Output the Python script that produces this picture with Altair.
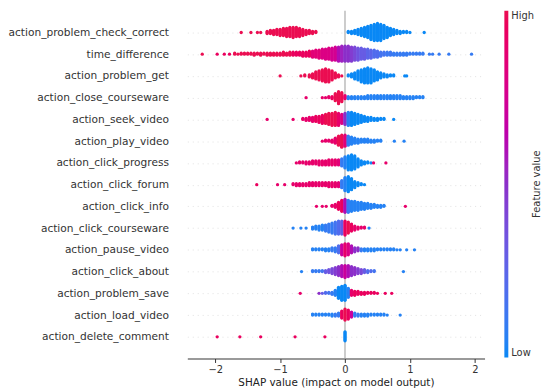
import altair as alt
import pandas as pd

features = [
    "action_problem_check_correct", "time_difference", "action_problem_get",
    "action_close_courseware", "action_seek_video", "action_play_video",
    "action_click_progress", "action_click_forum", "action_click_info",
    "action_click_courseware", "action_pause_video", "action_click_about",
    "action_problem_save", "action_load_video", "action_delete_comment",
]

# (shap value, number of points, feature value 0=low..1=high)
problem_check_correct = [
    (-1.6, 1, 1.0), (-1.45, 1, 1.0), (-1.35, 1, 1.0), (-1.3, 1, 1.0),
    (-1.2, 3, 1.0), (-1.15, 4, 1.0), (-1.1, 5, 1.0), (-1.05, 6, 1.0), (-1.0, 7, 1.0),
    (-0.95, 8, 1.0), (-0.9, 9, 1.0), (-0.85, 10, 1.0), (-0.8, 11, 1.0), (-0.75, 10, 1.0),
    (-0.7, 9, 1.0), (-0.65, 7, 1.0), (-0.6, 5, 1.0), (-0.55, 4, 1.0), (-0.5, 3, 1.0), (-0.45, 2, 1.0),
    (0.05, 2, 0.0), (0.1, 3, 0.0), (0.15, 4, 0.0), (0.2, 6, 0.0), (0.25, 8, 0.0), (0.3, 10, 0.0),
    (0.35, 12, 0.0), (0.4, 15, 0.0), (0.45, 17, 0.0), (0.5, 18, 0.0), (0.55, 17, 0.0), (0.6, 14, 0.0),
    (0.65, 11, 0.0), (0.7, 8, 0.0), (0.75, 6, 0.0), (0.8, 4, 0.0), (0.85, 3, 0.0), (0.9, 2, 0.0),
    (0.95, 2, 0.0), (1.0, 1, 0.0), (1.22, 1, 0.0),
]
time_difference = [
    (-2.2, 1, 1.0), (-1.97, 1, 0.95), (-1.86, 1, 0.95), (-1.78, 1, 0.95),
    (-1.7, 2, 1.0), (-1.65, 1, 1.0), (-1.6, 2, 1.0), (-1.55, 2, 1.0), (-1.5, 2, 1.0), (-1.45, 2, 1.0),
    (-1.4, 3, 1.0), (-1.35, 2, 1.0), (-1.3, 3, 1.0), (-1.25, 2, 1.0), (-1.2, 3, 1.0), (-1.15, 3, 1.0),
    (-1.1, 3, 1.0), (-1.05, 3, 1.0), (-1.0, 3, 1.0), (-0.95, 4, 1.0), (-0.9, 3, 1.0), (-0.85, 4, 1.0),
    (-0.8, 4, 0.95), (-0.75, 4, 0.95), (-0.7, 4, 0.95), (-0.65, 5, 0.95), (-0.6, 5, 0.95), (-0.55, 6, 0.95),
    (-0.5, 7, 0.85), (-0.45, 8, 0.85), (-0.4, 9, 0.85), (-0.35, 10, 0.8), (-0.3, 11, 0.8), (-0.25, 12, 0.8),
    (-0.2, 13, 0.75), (-0.15, 14, 0.75), (-0.1, 15, 0.6), (-0.05, 16, 0.55), (0.0, 16, 0.5), (0.05, 16, 0.5),
    (0.1, 15, 0.45), (0.15, 14, 0.4), (0.2, 13, 0.35), (0.25, 12, 0.3), (0.3, 11, 0.3), (0.35, 10, 0.25),
    (0.4, 9, 0.25), (0.45, 8, 0.2), (0.5, 7, 0.2), (0.55, 5, 0.15), (0.6, 4, 0.15), (0.65, 4, 0.12),
    (0.7, 4, 0.12), (0.75, 3, 0.1), (0.8, 3, 0.1), (0.85, 3, 0.1), (0.9, 3, 0.1), (0.95, 3, 0.1),
    (1.0, 2, 0.1), (1.05, 2, 0.1), (1.1, 2, 0.1), (1.15, 2, 0.1), (1.2, 2, 0.1), (1.3, 1, 0.1),
    (1.35, 1, 0.1), (1.45, 1, 0.1), (1.6, 1, 0.1), (1.95, 1, 0.1),
]
problem_get = [
    (-1.0, 1, 1.0), (-0.68, 1, 1.0), (-0.62, 2, 1.0), (-0.55, 3, 1.0), (-0.5, 5, 1.0), (-0.45, 8, 1.0),
    (-0.4, 10, 1.0), (-0.35, 12, 1.0), (-0.3, 14, 1.0), (-0.25, 13, 1.0), (-0.2, 10, 1.0), (-0.15, 6, 1.0),
    (-0.1, 3, 1.0), (-0.05, 1, 1.0),
    (0.05, 2, 0.0), (0.1, 4, 0.0), (0.15, 7, 0.0), (0.2, 10, 0.0), (0.25, 13, 0.0), (0.3, 15, 0.0),
    (0.35, 16, 0.0), (0.4, 15, 0.0), (0.45, 12, 0.0), (0.5, 9, 0.0), (0.55, 6, 0.0), (0.6, 4, 0.0),
    (0.65, 3, 0.0), (0.7, 2, 0.0), (0.75, 2, 0.0), (0.92, 1, 0.0), (0.95, 1, 0.0),
]
close_courseware = [
    (-0.6, 1, 0.9), (-0.35, 1, 0.9), (-0.3, 1, 0.9), (-0.25, 2, 0.9), (-0.2, 3, 0.95), (-0.15, 8, 1.0),
    (-0.1, 13, 1.0), (-0.05, 10, 1.0), (0.0, 4, 0.9),
    (0.05, 3, 0.05), (0.1, 3, 0.05), (0.15, 3, 0.05), (0.2, 3, 0.05), (0.25, 3, 0.05), (0.3, 3, 0.05),
    (0.35, 4, 0.05), (0.4, 4, 0.05), (0.45, 4, 0.05), (0.5, 4, 0.05), (0.55, 4, 0.05), (0.6, 4, 0.05),
    (0.65, 4, 0.05), (0.7, 4, 0.05), (0.75, 4, 0.05), (0.8, 4, 0.05), (0.85, 4, 0.05), (0.9, 3, 0.05),
    (0.95, 3, 0.05), (1.0, 3, 0.05), (1.05, 3, 0.05), (1.1, 2, 0.05), (1.15, 2, 0.05), (1.2, 2, 0.05),
]
seek_video = [
    (-1.2, 1, 0.9), (-0.8, 1, 0.9), (-0.65, 2, 0.9), (-0.6, 3, 0.9), (-0.55, 4, 0.9), (-0.5, 5, 0.9),
    (-0.45, 6, 0.95), (-0.4, 7, 0.95), (-0.35, 9, 0.95), (-0.3, 10, 1.0), (-0.25, 12, 1.0), (-0.2, 13, 1.0),
    (-0.15, 14, 1.0), (-0.1, 13, 0.9), (-0.05, 10, 0.8), (0.0, 12, 0.5),
    (0.05, 14, 0.05), (0.1, 14, 0.0), (0.15, 12, 0.0), (0.2, 10, 0.0), (0.25, 8, 0.0), (0.3, 6, 0.0),
    (0.35, 5, 0.0), (0.4, 4, 0.0), (0.45, 3, 0.0), (0.5, 3, 0.0), (0.55, 2, 0.0), (0.6, 2, 0.0), (0.75, 1, 0.0),
]
play_video = [
    (-0.35, 1, 0.9), (-0.3, 2, 0.9), (-0.25, 2, 0.9), (-0.2, 3, 0.9), (-0.15, 6, 0.9), (-0.1, 10, 1.0),
    (-0.05, 13, 1.0), (0.0, 12, 0.85),
    (0.05, 10, 0.1), (0.1, 8, 0.05), (0.15, 6, 0.05), (0.2, 5, 0.05), (0.25, 4, 0.05), (0.3, 4, 0.05),
    (0.35, 4, 0.05), (0.4, 3, 0.05), (0.45, 3, 0.05), (0.5, 2, 0.05), (0.55, 2, 0.05), (0.76, 1, 0.05), (0.91, 1, 0.05),
]
click_progress = [
    (-0.75, 1, 0.9), (-0.7, 2, 0.9), (-0.65, 2, 0.9), (-0.6, 3, 0.9), (-0.55, 3, 0.9), (-0.5, 4, 0.9),
    (-0.45, 4, 0.9), (-0.4, 5, 0.9), (-0.35, 5, 0.9), (-0.3, 5, 0.9), (-0.25, 6, 0.9), (-0.2, 6, 0.9),
    (-0.15, 6, 0.9), (-0.1, 6, 0.85),
    (-0.05, 8, 0.1), (0.0, 12, 0.05), (0.05, 15, 0.0), (0.1, 16, 0.0), (0.15, 14, 0.0), (0.2, 9, 0.0),
    (0.25, 5, 0.0), (0.3, 3, 0.0), (0.35, 2, 0.0), (0.4, 1, 0.0), (0.44, 1, 0.9), (0.63, 1, 0.9),
]
click_forum = [
    (-1.36, 1, 0.95), (-1.04, 1, 0.9), (-0.93, 1, 0.9), (-0.8, 2, 0.9), (-0.75, 3, 0.9), (-0.7, 3, 0.9),
    (-0.65, 3, 0.9), (-0.6, 3, 0.9), (-0.55, 4, 0.9), (-0.5, 4, 0.9), (-0.45, 4, 0.9), (-0.4, 4, 0.9),
    (-0.35, 4, 0.9), (-0.3, 4, 0.9), (-0.25, 5, 0.9), (-0.2, 5, 0.9), (-0.15, 5, 0.9), (-0.1, 5, 0.85),
    (-0.05, 8, 0.1), (0.0, 14, 0.05), (0.05, 16, 0.0), (0.1, 12, 0.0), (0.15, 7, 0.0), (0.2, 4, 0.0),
    (0.25, 2, 0.0), (0.3, 1, 0.0),
]
click_info = [
    (-0.44, 1, 0.9), (-0.35, 1, 0.9), (-0.29, 1, 0.9), (-0.2, 2, 0.9), (-0.15, 4, 0.9), (-0.1, 8, 0.95),
    (-0.05, 12, 0.95), (0.0, 14, 0.6),
    (0.05, 13, 0.1), (0.1, 11, 0.05), (0.15, 10, 0.05), (0.2, 9, 0.05), (0.25, 8, 0.05), (0.3, 7, 0.05),
    (0.35, 6, 0.05), (0.4, 5, 0.05), (0.45, 4, 0.05), (0.5, 3, 0.05), (0.55, 3, 0.05), (0.6, 2, 0.05),
    (0.93, 1, 0.9),
]
click_courseware = [
    (-0.8, 1, 0.05), (-0.68, 1, 0.05), (-0.6, 1, 0.05), (-0.5, 3, 0.05), (-0.45, 4, 0.05), (-0.4, 5, 0.05),
    (-0.35, 6, 0.05), (-0.3, 7, 0.1), (-0.25, 9, 0.1), (-0.2, 11, 0.1), (-0.15, 13, 0.15), (-0.1, 14, 0.2),
    (-0.05, 14, 0.3),
    (0.0, 15, 0.95), (0.05, 12, 1.0), (0.1, 8, 0.95), (0.15, 5, 0.9), (0.2, 3, 0.9), (0.25, 2, 0.9),
    (0.3, 2, 0.9), (0.37, 1, 0.05),
]
pause_video = [
    (-0.5, 2, 0.05), (-0.45, 2, 0.05), (-0.4, 2, 0.05), (-0.35, 2, 0.05), (-0.3, 3, 0.05), (-0.25, 3, 0.05),
    (-0.2, 4, 0.1), (-0.15, 5, 0.1), (-0.1, 8, 0.2),
    (-0.05, 11, 0.7), (0.0, 13, 0.9), (0.05, 12, 0.8), (0.1, 8, 0.6), (0.15, 5, 0.5), (0.2, 4, 0.5),
    (0.25, 3, 0.1), (0.3, 3, 0.05), (0.35, 3, 0.05), (0.4, 3, 0.05), (0.45, 3, 0.05), (0.5, 2, 0.05),
    (0.55, 2, 0.05), (0.6, 2, 0.05), (0.65, 2, 0.05), (0.7, 2, 0.05), (0.75, 2, 0.05), (0.8, 1, 0.05),
    (0.85, 1, 0.05), (0.95, 1, 0.05), (1.07, 1, 0.05),
]
click_about = [
    (-0.67, 1, 0.05), (-0.5, 2, 0.1), (-0.45, 2, 0.1), (-0.4, 2, 0.1), (-0.35, 2, 0.15), (-0.3, 3, 0.3),
    (-0.25, 4, 0.35), (-0.2, 6, 0.4), (-0.15, 8, 0.45), (-0.1, 10, 0.5), (-0.05, 12, 0.6), (0.0, 13, 0.7),
    (0.05, 12, 0.6), (0.1, 10, 0.5), (0.15, 8, 0.5), (0.2, 6, 0.45), (0.25, 5, 0.4), (0.3, 4, 0.3),
    (0.35, 3, 0.2), (0.4, 2, 0.2), (0.45, 2, 0.15), (0.9, 1, 0.05),
]
problem_save = [
    (-0.69, 1, 0.9), (-0.4, 1, 0.5), (-0.35, 1, 0.3), (-0.3, 2, 0.2), (-0.25, 2, 0.15), (-0.2, 3, 0.1),
    (-0.15, 6, 0.05), (-0.1, 12, 0.0), (-0.05, 15, 0.0), (0.0, 16, 0.0), (0.05, 10, 0.05),
    (0.1, 6, 0.9), (0.15, 5, 0.95), (0.2, 4, 0.95), (0.25, 3, 0.95), (0.3, 3, 0.95), (0.35, 2, 0.95),
    (0.4, 2, 0.95), (0.45, 2, 0.95), (0.5, 1, 0.95), (0.62, 1, 0.95), (0.72, 1, 0.95),
]
load_video = [
    (-0.5, 2, 0.05), (-0.45, 2, 0.05), (-0.4, 2, 0.05), (-0.35, 2, 0.05), (-0.3, 2, 0.05), (-0.25, 2, 0.05),
    (-0.2, 3, 0.05), (-0.15, 3, 0.1), (-0.1, 4, 0.1),
    (-0.05, 8, 0.95), (0.0, 12, 1.0), (0.05, 10, 0.95), (0.1, 6, 0.7),
    (0.15, 4, 0.1), (0.2, 3, 0.1), (0.25, 3, 0.05), (0.3, 3, 0.05), (0.35, 3, 0.05), (0.4, 2, 0.05),
    (0.45, 2, 0.05), (0.5, 2, 0.05), (0.55, 2, 0.05), (0.6, 2, 0.05), (0.65, 1, 0.05), (0.85, 1, 0.05),
]
delete_comment = [
    (-1.97, 1, 0.95), (-1.62, 1, 0.95), (-1.3, 1, 0.95), (-0.77, 1, 0.95), (-0.31, 1, 0.95),
    (0.0, 10, 0.0),
]

rows = [
    problem_check_correct, time_difference, problem_get, close_courseware, seek_video,
    play_video, click_progress, click_forum, click_info, click_courseware,
    pause_video, click_about, problem_save, load_video, delete_comment,
]

records = []
for i, pts in enumerate(rows):
    for x, n, fv in pts:
        for _ in range(n):
            records.append({"row": i, "shap": x, "fv": fv})
df = pd.DataFrame(records)

FONT = "DejaVu Sans"
label_expr = "[" + ",".join("'" + f + "'" for f in features) + "][datum.value]"

xscale = alt.Scale(domain=[-2.43, 2.15], nice=False, zero=False)
yscale = alt.Scale(domain=[-1, 15], reverse=True, nice=False, zero=False)

zero_rule = alt.Chart(pd.DataFrame({"x": [0]})).mark_rule(color="#999999", strokeWidth=1).encode(
    x=alt.X("x:Q", scale=xscale)
)

points = alt.Chart(df).transform_window(
    rank="row_number()", groupby=["row", "shap"]
).transform_calculate(
    ypos="datum.row + (datum.rank % 2 == 0 ? -1 : 1) * floor(datum.rank / 2) * 0.046"
).mark_circle(size=11, opacity=1).encode(
    x=alt.X("shap:Q", scale=xscale,
            axis=alt.Axis(values=[-2, -1, 0, 1, 2], format="d",
                          title="SHAP value (impact on model output)",
                          grid=False, domainColor="#333333", tickColor="#333333", tickSize=4,
                          labelFontSize=10, labelColor="#333333", titleFontSize=10.5,
                          titleColor="#222222", titleFontWeight="normal", labelPadding=2,
                          titlePadding=3)),
    y=alt.Y("ypos:Q", scale=yscale,
            axis=alt.Axis(values=list(range(15)), labelExpr=label_expr, title=None, grid=True,
                          gridColor="#cccccc", gridDash=[1, 4], gridWidth=0.6, domain=False,
                          ticks=False, labelPadding=19, labelFontSize=10.7, labelColor="#333333",
                          labelLimit=300)),
    color=alt.Color("fv:Q",
                    scale=alt.Scale(domain=[0, 1], range=["#0a88f5", "#8b2fc9", "#eb0e52"]),
                    legend=alt.Legend(orient="none", legendX=320, legendY=0, direction="vertical",
                                      gradientLength=350, gradientThickness=4, gradientStrokeWidth=0,
                                      values=[0, 1], labelExpr="datum.value == 1 ? 'High' : 'Low'",
                                      labelFontSize=10, labelColor="#333333", labelOffset=3,
                                      title=None)),
)

cbar_title = alt.Chart(pd.DataFrame({"t": ["Feature value"]})).mark_text(
    angle=270, fontSize=10, color="#333333", font=FONT
).encode(text="t:N", x=alt.value(353), y=alt.value(175))

chart = alt.layer(zero_rule, points, cbar_title).properties(
    width=300, height=351, padding={"left": 0, "top": 0, "right": 0, "bottom": 0}
).configure(font=FONT).configure_view(stroke=None)

chart.save("out.html", embed_options={"renderer": "svg", "actions": False})
